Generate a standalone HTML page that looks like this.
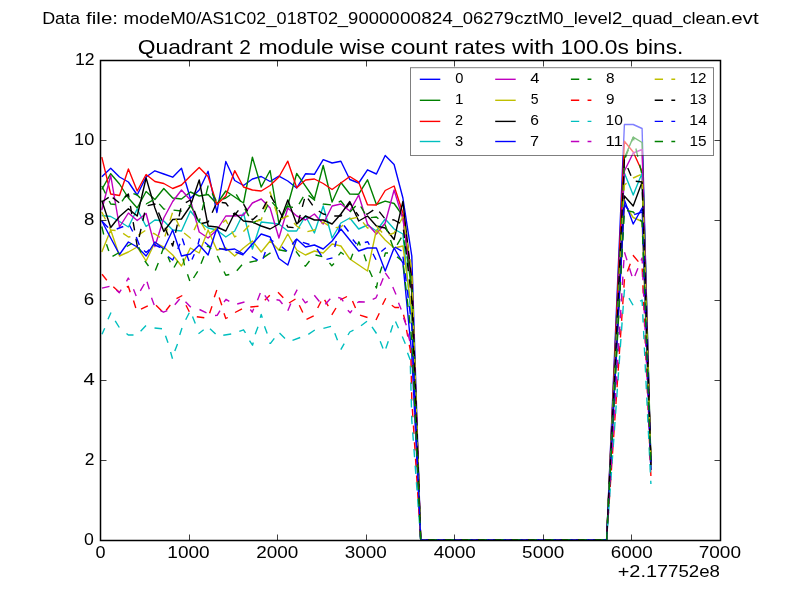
<!DOCTYPE html>
<html><head><meta charset="utf-8"><title>Quadrant 2 module wise count rates</title>
<style>
html,body{margin:0;padding:0;background:#fff;}
body{width:800px;height:600px;overflow:hidden;position:relative;}
svg{display:block;position:absolute;left:0;top:0;font-family:"Liberation Sans",sans-serif;}
#txt{filter:grayscale(100%);}
</style></head><body>
<svg width="800" height="600" viewBox="0 0 800 600">
<rect x="0" y="0" width="800" height="600" fill="#ffffff"/>

<defs><clipPath id="ax"><rect x="100" y="60" width="620" height="480.7"/></clipPath></defs>
<g clip-path="url(#ax)" fill="none" stroke-width="1.39" stroke-linejoin="round" stroke-linecap="butt">
<polyline points="101.8,176.8 110.7,168.3 119.5,177.0 128.4,182.0 137.2,195.0 146.1,177.0 154.9,170.8 163.8,174.0 172.7,177.2 181.5,168.3 190.4,198.5 199.2,190.0 208.1,171.3 216.9,212.5 225.8,161.5 234.7,180.5 243.5,185.5 252.4,179.0 261.2,176.5 270.1,181.5 278.9,176.2 287.8,181.0 296.7,188.0 305.5,173.8 314.4,174.3 323.2,159.7 332.1,163.0 340.9,161.2 349.8,179.5 358.7,183.0 367.5,169.8 376.4,174.0 385.2,155.5 394.1,164.5 402.9,198.0 411.8,256.0 420.7,540.0 606.6,540.0 615.5,332.0 624.4,124.5 633.2,124.5 642.1,128.5 650.9,470.0" stroke="#0000ff"/>
<polyline points="101.8,189.5 110.7,173.7 119.5,184.0 128.4,198.0 137.2,208.0 146.1,191.5 154.9,199.5 163.8,188.5 172.7,198.0 181.5,199.0 190.4,192.0 199.2,196.0 208.1,194.5 216.9,204.0 225.8,191.0 234.7,197.0 243.5,203.0 252.4,157.2 261.2,187.0 270.1,170.5 278.9,223.5 287.8,205.3 296.7,173.5 305.5,186.2 314.4,199.0 323.2,165.5 332.1,202.0 340.9,182.5 349.8,194.0 358.7,194.2 367.5,179.8 376.4,204.5 385.2,201.2 394.1,203.5 402.9,216.0 411.8,293.0 420.7,540.0 606.6,540.0 615.5,345.0 624.4,158.0 633.2,137.2 642.1,142.5 650.9,460.0" stroke="#008000"/>
<polyline points="101.8,157.2 110.7,194.0 119.5,195.5 128.4,169.0 137.2,191.0 146.1,174.5 154.9,181.5 163.8,183.5 172.7,188.5 181.5,185.0 190.4,176.0 199.2,167.5 208.1,176.5 216.9,204.5 225.8,196.0 234.7,170.7 243.5,187.0 252.4,190.0 261.2,191.0 270.1,185.5 278.9,177.0 287.8,161.2 296.7,187.8 305.5,180.0 314.4,179.0 323.2,183.5 332.1,189.5 340.9,183.0 349.8,176.5 358.7,182.2 367.5,204.8 376.4,205.0 385.2,190.5 394.1,186.0 402.9,213.0 411.8,278.0 420.7,540.0 606.6,540.0 615.5,340.0 624.4,141.2 633.2,152.0 642.1,171.5 650.9,465.0" stroke="#ff0000"/>
<polyline points="101.8,215.5 110.7,216.5 119.5,221.5 128.4,227.0 137.2,209.0 146.1,226.5 154.9,220.0 163.8,221.0 172.7,230.0 181.5,231.0 190.4,211.0 199.2,222.0 208.1,228.0 216.9,230.0 225.8,237.0 234.7,231.0 243.5,213.0 252.4,249.0 261.2,222.0 270.1,223.0 278.9,224.0 287.8,231.0 296.7,231.0 305.5,216.0 314.4,233.0 323.2,206.0 332.1,238.0 340.9,223.0 349.8,218.0 358.7,229.0 367.5,225.0 376.4,231.0 385.2,219.0 394.1,229.0 402.9,234.0 411.8,322.0 420.7,540.0 606.6,540.0 615.5,355.0 624.4,173.0 633.2,195.0 642.1,173.0 650.9,470.0" stroke="#00bfbf"/>
<polyline points="101.8,210.0 110.7,175.5 119.5,227.0 128.4,213.0 137.2,220.5 146.1,213.5 154.9,246.5 163.8,218.0 172.7,201.5 181.5,190.0 190.4,200.0 199.2,232.0 208.1,238.0 216.9,230.0 225.8,216.0 234.7,216.0 243.5,215.0 252.4,203.0 261.2,199.0 270.1,208.0 278.9,238.0 287.8,208.0 296.7,216.0 305.5,220.0 314.4,214.0 323.2,224.0 332.1,206.0 340.9,204.0 349.8,211.0 358.7,195.0 367.5,224.0 376.4,234.0 385.2,223.0 394.1,190.0 402.9,219.0 411.8,281.0 420.7,540.0 606.6,540.0 615.5,358.0 624.4,171.0 633.2,153.0 642.1,149.5 650.9,465.0" stroke="#bf00bf"/>
<polyline points="101.8,252.0 110.7,230.0 119.5,256.0 128.4,252.0 137.2,247.0 146.1,261.0 154.9,242.5 163.8,247.0 172.7,255.0 181.5,266.0 190.4,248.0 199.2,253.0 208.1,230.0 216.9,250.0 225.8,248.0 234.7,256.0 243.5,248.0 252.4,241.0 261.2,252.0 270.1,241.0 278.9,250.0 287.8,234.0 296.7,250.0 305.5,255.0 314.4,251.0 323.2,253.0 332.1,244.0 340.9,246.0 349.8,259.0 358.7,265.0 367.5,271.0 376.4,230.0 385.2,240.0 394.1,248.0 402.9,246.0 411.8,311.0 420.7,540.0 606.6,540.0 615.5,370.0 624.4,204.0 633.2,217.5 642.1,221.5 650.9,468.0" stroke="#bfbf00"/>
<polyline points="101.8,200.5 110.7,227.5 119.5,216.5 128.4,208.8 137.2,216.0 146.1,178.0 154.9,208.0 163.8,231.5 172.7,219.5 181.5,219.0 190.4,206.0 199.2,180.0 208.1,226.0 216.9,227.0 225.8,231.0 234.7,213.0 243.5,221.0 252.4,222.0 261.2,226.0 270.1,229.0 278.9,224.0 287.8,200.0 296.7,224.0 305.5,216.0 314.4,220.0 323.2,220.0 332.1,224.0 340.9,214.0 349.8,201.5 358.7,221.0 367.5,216.0 376.4,226.0 385.2,228.0 394.1,239.5 402.9,201.5 411.8,281.0 420.7,540.0 606.6,540.0 615.5,368.0 624.4,196.0 633.2,206.0 642.1,182.0 650.9,461.0" stroke="#000000"/>
<polyline points="101.8,221.0 110.7,238.0 119.5,254.5 128.4,242.0 137.2,247.0 146.1,256.0 154.9,242.0 163.8,249.0 172.7,230.0 181.5,256.0 190.4,254.0 199.2,245.0 208.1,255.0 216.9,228.0 225.8,250.0 234.7,249.0 243.5,254.0 252.4,244.0 261.2,234.0 270.1,237.0 278.9,258.5 287.8,265.0 296.7,239.0 305.5,247.0 314.4,245.0 323.2,249.0 332.1,241.0 340.9,229.0 349.8,240.0 358.7,251.0 367.5,248.0 376.4,248.0 385.2,271.0 394.1,248.0 402.9,263.0 411.8,355.0 420.7,540.0 606.6,540.0 615.5,370.0 624.4,200.0 633.2,224.0 642.1,208.0 650.9,470.0" stroke="#0000ff"/>
<polyline points="101.8,186.0 110.7,204.0 119.5,205.0 128.4,192.0 137.2,195.0 146.1,204.0 154.9,199.0 163.8,209.0 172.7,210.0 181.5,211.0 190.4,205.0 199.2,222.0 208.1,186.0 216.9,202.0 225.8,198.0 234.7,192.0 243.5,206.0 252.4,223.0 261.2,219.0 270.1,200.0 278.9,210.0 287.8,206.5 296.7,208.0 305.5,193.0 314.4,200.0 323.2,204.0 332.1,205.0 340.9,201.0 349.8,212.0 358.7,203.0 367.5,218.0 376.4,217.0 385.2,225.0 394.1,250.0 402.9,235.0 411.8,282.0 420.7,540.0 606.6,540.0" stroke="#008000" stroke-dasharray="8.33 8.33"/>
<polyline points="606.6,540.0 615.5,350.0 624.4,160.0 633.2,137.2 642.1,175.0 650.9,465.0" stroke="#008000" stroke-dasharray="8.33 8.33" stroke-dashoffset="0.00"/>
<path d="M102.0,274.3L106.8,280.3M113.3,286.7L119.3,292.3M126.8,287.0L128.3,286.3L130.2,292.3M133.5,300.5L135.8,308.0M141.0,309.2L147.8,305.8M156.0,305.3L162.0,311.3M166.2,310.3L170.3,305.0M176.5,298.7L182.3,295.5M186.0,305.3L189.3,311.8M196.8,316.7L204.3,317.8M209.6,313.3L212.0,306.3M214.3,297.2L216.8,290.0M219.2,297.5L221.8,305.3M224.0,313.3L225.8,318.5L227.8,317.5M235.0,312.5L242.0,308.8M250.3,307.0L258.5,306.2M264.8,300.2L269.8,295.3M278.0,292.3L283.3,297.8M289.0,303.0L295.5,299.0M299.3,305.3L302.8,312.5M306.5,319.3L313.7,315.8M317.7,308.0L321.0,301.5M324.6,299.8L328.3,306.2M331.8,314.8L336.0,308.0M340.3,299.8L347.0,296.5M352.5,301.0L355.5,308.0M360.0,315.2L367.5,317.5M376.0,320.0L379.3,313.3M382.5,304.7L385.8,298.3M391.8,305.3L394.8,307.5L399.0,307.5M403.5,314.8L405.5,322.3M406.5,329.8L407.8,336.5M409.3,344.8L410.8,353.0" stroke="#ff0000"/>
<polyline points="410.8,353.0 411.8,400.0 420.7,540.0 606.6,540.0" stroke="#ff0000" stroke-dasharray="8.33 8.33" stroke-dashoffset="-6.0"/>
<polyline points="606.6,540.0 615.5,410.0 624.4,280.0 633.2,255.5 642.1,266.0 650.9,476.0" stroke="#ff0000" stroke-dasharray="8.33 8.33" stroke-dashoffset="13.56"/>
<path d="M102.0,334.3L104.7,328.3M108.0,319.3L111.0,312.5M115.2,320.8L119.3,327.5M126.5,333.5L128.3,335.0L133.5,335.0M140.6,331.3L146.0,325.6M154.5,328.0L162.0,328.7M165.5,335.8L168.0,342.8M170.6,352.0L172.5,358.7M174.8,351.0L177.5,344.0M179.7,335.0L182.0,328.0M185.7,319.7L189.3,312.8M192.5,316.5L195.3,323.5M198.5,333.8L203.7,329.7M210.0,328.7L215.6,334.1M223.3,335.3L231.2,334.0M239.3,331.3L243.5,329.8L245.5,332.8M249.5,340.7L252.5,345.2L253.3,342.5M255.2,334.3L258.0,326.8M260.3,317.8L261.2,314.5L262.3,317.8M264.5,326.3L267.2,333.5M269.3,343.3L270.5,343.3L274.3,338.3M279.5,333.0L285.0,338.5M292.5,340.3L300.2,337.5M308.3,334.3L314.8,330.0M323.4,328.3L331.0,326.3M334.8,333.2L337.5,340.3M340.8,349.7L344.2,343.7M348.0,335.0L349.8,332.0L353.5,330.2M361.0,325.7L367.0,321.2M372.0,326.8L376.5,333.5M380.2,341.3L383.0,348.5M385.8,348.5L388.3,341.3M390.5,332.5L392.8,325.3M395.5,321.5L398.5,328.3M402.3,336.5L405.3,343.7M407.5,352.7L410.2,359.8" stroke="#00bfbf"/>
<polyline points="410.2,359.8 411.8,420.0 420.7,540.0 606.6,540.0" stroke="#00bfbf" stroke-dasharray="8.33 8.33" stroke-dashoffset="-6.0"/>
<polyline points="606.6,540.0 615.5,415.0 624.4,290.0 633.2,305.5 642.1,300.0 650.9,484.0" stroke="#00bfbf" stroke-dasharray="8.33 8.33" stroke-dashoffset="6.69"/>
<path d="M102.0,288.2L109.5,286.3M116.3,290.0L119.3,292.7L121.2,289.7M126.5,281.3L128.3,278.0L129.3,279.8M133.5,289.3L136.2,296.0M140.3,290.8L144.3,284.0M147.0,281.8L149.3,289.3M151.5,297.8L154.2,305.0M160.5,310.7L163.5,312.2L167.3,310.7M174.8,304.7L179.7,299.0M185.5,301.7L190.8,307.3M199.5,309.5L206.5,312.8M215.0,315.5L217.3,315.2L220.0,310.7M224.0,302.0L226.0,299.3L229.3,301.3M237.2,304.0L244.5,302.0M250.3,309.5L252.2,312.2L253.7,308.8M257.5,300.2L260.3,293.0M264.8,295.3L269.0,301.3M276.5,299.8L279.5,300.2L282.5,304.0M287.8,310.7L290.8,303.5M294.2,295.3L297.2,289.7M302.3,298.7L305.3,302.8L307.7,301.3M314.3,295.3L319.4,301.5M325.3,304.3L330.3,298.7M338.2,297.5L341.2,298.3L343.3,301.3M347.8,310.3L350.2,312.8L352.0,310.3M357.3,302.8L358.8,301.7L364.8,302.0M372.7,299.3L376.0,297.8L377.5,294.5M380.2,285.8L383.2,278.3M385.3,272.8L389.5,278.8M392.8,287.0L396.0,294.5M398.5,302.8L401.2,309.5M403.5,317.8L406.3,325.3M407.8,333.5L409.8,341.0M411.3,349.3L412.8,356.0" stroke="#bf00bf"/>
<polyline points="412.8,356.0 420.7,540.0 606.6,540.0" stroke="#bf00bf" stroke-dasharray="8.33 8.33" stroke-dashoffset="-6.0"/>
<polyline points="606.6,540.0 615.5,396.0 624.4,252.0 633.2,280.0 642.1,258.0 650.9,470.0" stroke="#bf00bf" stroke-dasharray="8.33 8.33" stroke-dashoffset="11.01"/>
<polyline points="101.8,212.0 110.7,230.0 119.5,231.0 128.4,237.0 137.2,236.0 146.1,230.0 154.9,234.0 163.8,240.0 172.7,212.0 181.5,231.0 190.4,238.0 199.2,219.0 208.1,235.0 216.9,228.0 225.8,220.0 234.7,237.0 243.5,231.5 252.4,222.0 261.2,220.0 270.1,192.0 278.9,220.0 287.8,216.0 296.7,226.0 305.5,232.0 314.4,230.0 323.2,222.0 332.1,228.0 340.9,227.0 349.8,219.0 358.7,217.0 367.5,228.0 376.4,226.0 385.2,236.0 394.1,233.0 402.9,217.0 411.8,270.0 420.7,540.0 606.6,540.0" stroke="#bfbf00" stroke-dasharray="8.33 8.33"/>
<polyline points="606.6,540.0 615.5,362.0 624.4,185.0 633.2,178.0 642.1,174.0 650.9,465.0" stroke="#bfbf00" stroke-dasharray="8.33 8.33" stroke-dashoffset="0.00"/>
<polyline points="101.8,202.0 110.7,196.0" stroke="#000000" stroke-dasharray="8.33 8.33"/>
<polyline points="110.7,196.0 119.5,203.0 128.4,194.0 137.2,246.0 146.1,206.0 154.9,204.0 163.8,225.0 172.7,246.0 181.5,205.0 190.4,200.0 199.2,224.0 208.1,222.0 216.9,202.0 225.8,203.0 234.7,215.0 243.5,204.0 252.4,220.0 261.2,212.0 270.1,195.0 278.9,210.0 287.8,227.0 296.7,228.0 305.5,195.0 314.4,208.0 323.2,214.0 332.1,216.0 340.9,216.0 349.8,203.0 358.7,216.0" stroke="#000000" stroke-dasharray="8.33 8.33" stroke-dashoffset="14.11"/>
<polyline points="358.7,216.0 367.5,214.0 376.4,208.0 385.2,219.0 394.1,220.0 402.9,225.0 411.8,300.0 420.7,540.0 606.6,540.0" stroke="#000000" stroke-dasharray="8.33 8.33" stroke-dashoffset="8.99"/>
<polyline points="606.6,540.0 615.5,358.0 624.4,160.0 633.2,181.0 642.1,182.0 650.9,465.0" stroke="#000000" stroke-dasharray="8.33 8.33" stroke-dashoffset="10.73"/>
<path d="M101.8,221.0L108.0,227.5M116.7,229.0L123.3,226.5M129.6,225.5L132.7,231.5M136.3,237.0L139.3,245.0M144.0,250.5L146.1,252.5L149.5,249.5M153.8,244.5L160.5,247.5M168.0,256.5L172.7,260.0L174.0,257.3M177.8,249.0L180.0,243.8M182.3,238.5L184.5,245.3M186.8,255.0L189.0,261.0M192.0,259.5L194.3,254.3M198.0,244.5L199.5,238.5M204.8,242.3L210.8,247.5M219.0,248.5L227.0,250.0M235.5,252.0L243.5,255.0M251.8,256.5L257.8,260.3M263.0,258.8L265.3,252.0M269.8,239.3L273.5,241.5M281.8,246.8L287.0,251.3M292.3,244.5L296.0,239.3M302.8,242.3L309.5,244.5M317.0,249.0L321.5,255.8M326.5,259.3L332.5,257.8M334.8,247.0L336.3,241.0M338.3,233.0L340.2,225.0M344.0,225.5L348.5,231.5M352.8,239.5L356.5,244.0M364.8,242.5L367.8,241.8L369.3,244.8M373.0,253.8L376.0,259.8M381.3,251.5L385.8,247.8M394.8,247.0L401.5,250.8" stroke="#0000ff"/>
<polyline points="401.5,250.8 402.9,256.0 411.8,326.0 420.7,540.0 606.6,540.0" stroke="#0000ff" stroke-dasharray="8.33 8.33" stroke-dashoffset="-6.0"/>
<polyline points="606.6,540.0 615.5,372.0 624.4,205.0 633.2,215.0 642.1,212.0 650.9,468.0" stroke="#0000ff" stroke-dasharray="8.33 8.33" stroke-dashoffset="0.00"/>
<path d="M101.8,226.5L103.7,234.5M106.5,244.3L108.8,251.0M112.5,256.3L119.3,252.5M126.8,246.5L132.0,243.5M138.8,247.3L141.0,252.5M144.8,260.8L148.5,266.0M155.3,270.5L158.3,263.0M161.3,254.0L163.5,248.0M168.0,257.0L170.3,262.3M174.0,267.5L177.8,260.8M183.0,258.5L184.5,265.3M187.5,274.3L189.8,281.0M193.5,278.0L197.7,271.3M201.0,263.8L204.0,256.3M206.8,246.6L208.1,246.0L211.2,249.0M217.3,255.8L220.3,262.5M224.0,271.5L225.8,275.3L229.3,274.5M236.8,270.8L242.0,264.8M249.5,262.2L257.0,260.7M263.8,257.3L270.5,252.8M278.8,249.8L286.3,251.3M296.0,251.3L299.8,256.5M304.3,265.5L305.5,266.2L309.5,261.0M315.5,255.0L322.3,256.7M329.5,262.8L331.8,265.8L334.0,263.5M338.5,255.3L340.8,252.3L343.8,254.5M350.5,259.8L352.8,253.8M357.3,245.5L358.9,241.8L360.3,245.5M364.0,254.5L366.3,261.3M369.3,270.3L372.3,277.0M375.5,286.0L376.4,288.0L377.5,282.3M379.8,273.3L382.0,266.5M384.3,256.8L385.4,253.0L388.0,253.0M397.0,256.8L401.5,260.5" stroke="#008000"/>
<polyline points="401.5,260.5 402.9,261.0 411.8,340.0 420.7,540.0 606.6,540.0" stroke="#008000" stroke-dasharray="8.33 8.33" stroke-dashoffset="-6.0"/>
<polyline points="606.6,540.0 615.5,375.0 624.4,210.0 633.2,212.0 642.1,222.0 650.9,466.0" stroke="#008000" stroke-dasharray="8.33 8.33" stroke-dashoffset="0.00"/>
</g>
<rect x="100.5" y="60.5" width="620" height="480" fill="none" stroke="#000" stroke-width="1.5"/>
<path d="M100.50,540.5v-6M100.50,60.5v6M189.50,540.5v-6M189.50,60.5v6M277.50,540.5v-6M277.50,60.5v6M366.50,540.5v-6M366.50,60.5v6M454.50,540.5v-6M454.50,60.5v6M543.50,540.5v-6M543.50,60.5v6M631.50,540.5v-6M631.50,60.5v6M720.50,540.5v-6M720.50,60.5v6M100.5,540.50h6M720.5,540.50h-6M100.5,460.50h6M720.5,460.50h-6M100.5,380.50h6M720.5,380.50h-6M100.5,300.50h6M720.5,300.50h-6M100.5,220.50h6M720.5,220.50h-6M100.5,140.50h6M720.5,140.50h-6M100.5,60.50h6M720.5,60.50h-6" stroke="#000" stroke-width="0.75" fill="none"/>
<rect x="410.5" y="67.7" width="303" height="87.8" fill="#fff" fill-opacity="0.5" stroke="#000" stroke-opacity="0.5" stroke-width="1"/>
<line x1="419.8" y1="79.3" x2="440.3" y2="79.3" stroke="#0000ff" stroke-width="1.39"/>
<line x1="419.8" y1="100.3" x2="440.3" y2="100.3" stroke="#008000" stroke-width="1.39"/>
<line x1="419.8" y1="121.4" x2="440.3" y2="121.4" stroke="#ff0000" stroke-width="1.39"/>
<line x1="419.8" y1="141.5" x2="440.3" y2="141.5" stroke="#00bfbf" stroke-width="1.39"/>
<line x1="495.2" y1="79.3" x2="515.7" y2="79.3" stroke="#bf00bf" stroke-width="1.39"/>
<line x1="495.2" y1="100.3" x2="515.7" y2="100.3" stroke="#bfbf00" stroke-width="1.39"/>
<line x1="495.2" y1="121.4" x2="515.7" y2="121.4" stroke="#000000" stroke-width="1.39"/>
<line x1="495.2" y1="141.5" x2="515.7" y2="141.5" stroke="#0000ff" stroke-width="1.39"/>
<line x1="570.9" y1="79.3" x2="591.4" y2="79.3" stroke="#008000" stroke-width="1.39" stroke-dasharray="8.33 8.33"/>
<line x1="570.9" y1="100.3" x2="591.4" y2="100.3" stroke="#ff0000" stroke-width="1.39" stroke-dasharray="8.33 8.33"/>
<line x1="570.9" y1="121.4" x2="591.4" y2="121.4" stroke="#00bfbf" stroke-width="1.39" stroke-dasharray="8.33 8.33"/>
<line x1="570.9" y1="141.5" x2="591.4" y2="141.5" stroke="#bf00bf" stroke-width="1.39" stroke-dasharray="8.33 8.33"/>
<line x1="654.7" y1="79.3" x2="675.2" y2="79.3" stroke="#bfbf00" stroke-width="1.39" stroke-dasharray="8.33 8.33"/>
<line x1="654.7" y1="100.3" x2="675.2" y2="100.3" stroke="#000000" stroke-width="1.39" stroke-dasharray="8.33 8.33"/>
<line x1="654.7" y1="121.4" x2="675.2" y2="121.4" stroke="#0000ff" stroke-width="1.39" stroke-dasharray="8.33 8.33"/>
<line x1="654.7" y1="141.5" x2="675.2" y2="141.5" stroke="#008000" stroke-width="1.39" stroke-dasharray="8.33 8.33"/>
</svg>
<svg id="txt" width="800" height="600" viewBox="0 0 800 600" fill="#000">
<text transform="translate(42.14,23.70) scale(1.0790,1)" font-size="16.67">Data</text>
<text transform="translate(86.11,23.70) scale(1.2319,1)" font-size="16.67">file:</text>
<text transform="translate(123.43,23.70) scale(1.1233,1)" font-size="16.67">modeM0/</text>
<text transform="translate(200.79,23.70) scale(1.0501,1)" font-size="16.67">AS1C02</text>
<text transform="translate(266.48,23.70) scale(1.0880,1)" font-size="16.67">_018T02</text>
<text transform="translate(337.86,23.70) scale(1.1070,1)" font-size="16.67">_90000</text>
<text transform="translate(400.01,23.70) scale(1.1400,1)" font-size="16.67">00824</text>
<text transform="translate(452.48,23.70) scale(1.1095,1)" font-size="16.67">_06279</text>
<text transform="translate(514.29,23.70) scale(1.1088,1)" font-size="16.67">cztM0</text>
<text transform="translate(563.44,23.70) scale(1.1130,1)" font-size="16.67">_level2</text>
<text transform="translate(621.80,23.70) scale(1.1000,1)" font-size="16.67">_quad</text>
<text transform="translate(672.40,23.70) scale(1.0898,1)" font-size="16.67">_clean</text>
<text transform="translate(725.49,23.70) scale(1.2337,1)" font-size="16.67">.evt</text>
<text transform="translate(137.81,53.80) scale(1.1391,1)" font-size="20.00">Quadrant</text>
<text transform="translate(239.24,53.80) scale(1.0428,1)" font-size="20.00">2</text>
<text transform="translate(258.46,53.80) scale(1.1504,1)" font-size="20.00">module</text>
<text transform="translate(339.66,53.80) scale(1.1365,1)" font-size="20.00">wise</text>
<text transform="translate(390.86,53.80) scale(1.1610,1)" font-size="20.00">count</text>
<text transform="translate(454.20,53.80) scale(1.1550,1)" font-size="20.00">rates</text>
<text transform="translate(512.03,53.80) scale(1.1831,1)" font-size="20.00">with</text>
<text transform="translate(560.59,53.80) scale(1.1379,1)" font-size="20.00">100.0s</text>
<text transform="translate(635.46,53.80) scale(1.1334,1)" font-size="20.00">bins.</text>
<text transform="translate(617.73,577.20) scale(1.1956,1)" font-size="16.67">+2.17</text>
<text transform="translate(668.04,577.20) scale(1.1197,1)" font-size="16.67">752e8</text>
<text transform="translate(95.43,557.80) scale(1.0803,1)" font-size="16.67">0</text>
<text transform="translate(167.33,557.80) scale(1.1425,1)" font-size="16.67">1000</text>
<text transform="translate(256.13,557.80) scale(1.1356,1)" font-size="16.67">2000</text>
<text transform="translate(344.87,557.80) scale(1.1336,1)" font-size="16.67">3000</text>
<text transform="translate(433.72,557.80) scale(1.1348,1)" font-size="16.67">4000</text>
<text transform="translate(522.12,557.80) scale(1.1355,1)" font-size="16.67">5000</text>
<text transform="translate(610.66,557.80) scale(1.1318,1)" font-size="16.67">6000</text>
<text transform="translate(698.70,557.80) scale(1.1411,1)" font-size="16.67">7000</text>
<text transform="translate(84.04,545.10) scale(1.0633,1)" font-size="16.67">0</text>
<text transform="translate(84.63,465.10) scale(1.0473,1)" font-size="16.67">2</text>
<text transform="translate(83.41,385.10) scale(1.2183,1)" font-size="16.67">4</text>
<text transform="translate(83.77,305.10) scale(1.1238,1)" font-size="16.67">6</text>
<text transform="translate(83.90,225.10) scale(1.1179,1)" font-size="16.67">8</text>
<text transform="translate(74.12,145.10) scale(1.0879,1)" font-size="16.67">10</text>
<text transform="translate(74.91,65.10) scale(1.0569,1)" font-size="16.67">12</text>
<text transform="translate(455.13,83.00) scale(1.0556,1)" font-size="13.89">0</text>
<text transform="translate(454.89,104.00) scale(1.0938,1)" font-size="13.89">1</text>
<text transform="translate(455.01,125.10) scale(1.0433,1)" font-size="13.89">2</text>
<text transform="translate(454.97,145.80) scale(1.0614,1)" font-size="13.89">3</text>
<text transform="translate(530.33,83.00) scale(1.1912,1)" font-size="13.89">4</text>
<text transform="translate(530.69,104.00) scale(1.0074,1)" font-size="13.89">5</text>
<text transform="translate(530.28,125.10) scale(1.1224,1)" font-size="13.89">6</text>
<text transform="translate(529.93,145.80) scale(1.1682,1)" font-size="13.89">7</text>
<text transform="translate(606.12,83.00) scale(1.1088,1)" font-size="13.89">8</text>
<text transform="translate(605.88,104.00) scale(1.0994,1)" font-size="13.89">9</text>
<text transform="translate(605.57,125.10) scale(1.1208,1)" font-size="13.89">10</text>
<text transform="translate(605.39,145.80) scale(1.2120,1)" font-size="13.89">11</text>
<text transform="translate(689.48,83.00) scale(1.0940,1)" font-size="13.89">12</text>
<text transform="translate(689.41,104.00) scale(1.1181,1)" font-size="13.89">13</text>
<text transform="translate(689.31,125.10) scale(1.1446,1)" font-size="13.89">14</text>
<text transform="translate(689.50,145.80) scale(1.1067,1)" font-size="13.89">15</text>
</svg></body></html>
